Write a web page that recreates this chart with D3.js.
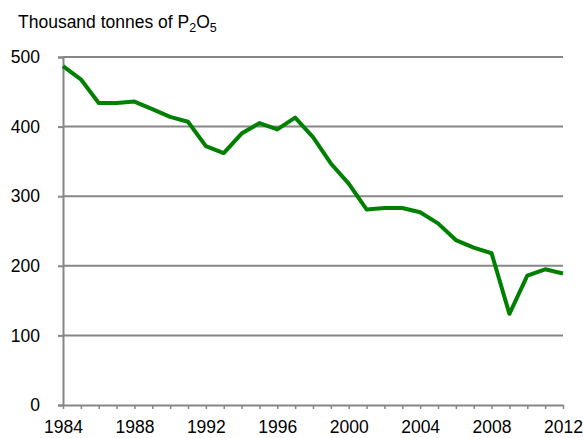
<!DOCTYPE html>
<html>
<head>
<meta charset="utf-8">
<script src="https://cdn.jsdelivr.net/npm/d3@7"></script>
<style>
  body { margin: 0; background: #fff; }
  svg { font-family: "Liberation Sans", Arial, sans-serif; }
</style>
</head>
<body>
<div id="chart"></div>
<script>
// Phosphate use, thousand tonnes of P2O5
const years = d3.range(1984, 2013);
const values = [487, 468, 434, 434, 436, 425, 414, 407, 372, 362, 390, 405, 396, 413,
    385, 347, 318, 281, 283, 283, 277, 261, 237, 226, 218, 131, 186, 195, 189];
const yTicks = [0, 100, 200, 300, 400, 500];
const xTickLabels = [1984, 1988, 1992, 1996, 2000, 2004, 2008, 2012];

const WIDTH = 583, HEIGHT = 438;
const MARGIN = { LEFT: 63, RIGHT: 20, TOP: 57, BOTTOM: 33 };
const innerW = WIDTH - MARGIN.LEFT - MARGIN.RIGHT;
const innerH = HEIGHT - MARGIN.TOP - MARGIN.BOTTOM;

const svg = d3.select("#chart").append("svg")
    .attr("width", WIDTH)
    .attr("height", HEIGHT);

const g = svg.append("g")
    .attr("transform", `translate(${MARGIN.LEFT},${MARGIN.TOP})`);

const x = d3.scaleLinear().domain([1984, 2012]).range([0, innerW]);
const y = d3.scaleLinear().domain([0, 500]).range([innerH, 0]);

const grey = "#868686";

// gridlines
g.selectAll("line.grid")
    .data(yTicks.filter(d => d > 0))
    .join("line")
    .attr("class", "grid")
    .attr("x1", 0)
    .attr("x2", innerW)
    .attr("y1", d => y(d))
    .attr("y2", d => y(d))
    .attr("stroke", grey)
    .attr("stroke-width", 2);

// y axis
const yAxis = g.append("g")
    .call(d3.axisLeft(y).tickValues(yTicks).tickSize(5).tickPadding(18));
yAxis.select(".domain").attr("stroke", grey).attr("stroke-width", 2);
yAxis.selectAll(".tick line").attr("stroke", grey).attr("stroke-width", 2);
yAxis.selectAll(".tick text")
    .attr("fill", "#000")
    .style("font-size", "17.5px");

// x axis
const xAxis = g.append("g")
    .attr("transform", `translate(0,${innerH})`)
    .call(d3.axisBottom(x).tickValues(years).tickSize(4).tickSizeOuter(0).tickPadding(12)
        .tickFormat(d => xTickLabels.includes(d) ? d : ""));
xAxis.select(".domain").attr("stroke", grey).attr("stroke-width", 2);
xAxis.selectAll(".tick line").attr("stroke", grey).attr("stroke-width", 1.5);
xAxis.selectAll(".tick text")
    .attr("fill", "#000")
    .style("font-size", "17.5px");

// data line
const line = d3.line()
    .x((d, i) => x(years[i]))
    .y(d => y(d));

g.append("path")
    .datum(values)
    .attr("fill", "none")
    .attr("stroke", "#008000")
    .attr("stroke-width", 4)
    .attr("stroke-linejoin", "round")
    .attr("d", line);

// unit title
const title = svg.append("text")
    .attr("x", 18)
    .attr("y", 28)
    .style("font-size", "17.5px")
    .attr("fill", "#000");
title.append("tspan").text("Thousand tonnes of P");
title.append("tspan").attr("dy", 4).style("font-size", "12.5px").text("2");
title.append("tspan").attr("dy", -4).text("O");
title.append("tspan").attr("dy", 4).style("font-size", "12.5px").text("5");
</script>
</body>
</html>
